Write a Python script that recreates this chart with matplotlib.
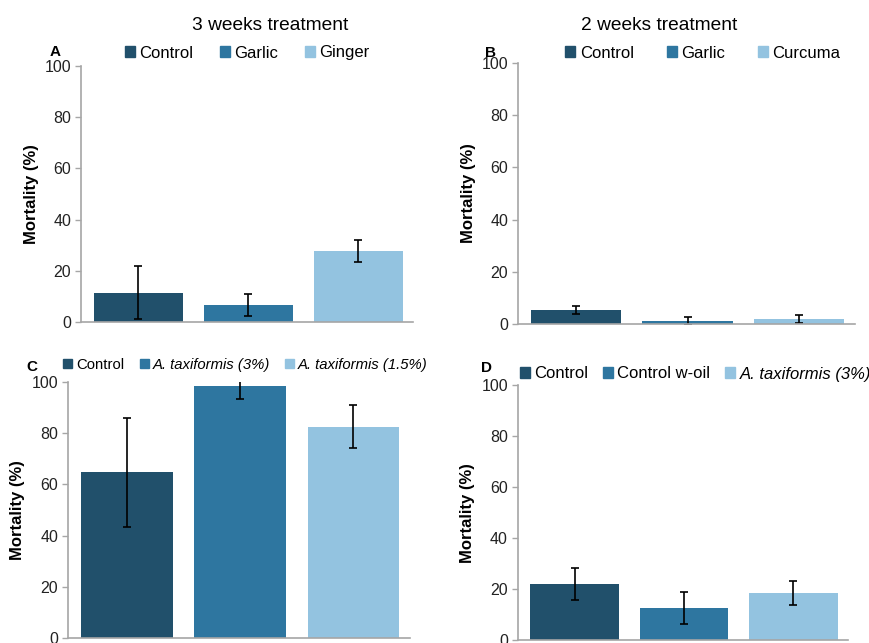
import matplotlib
matplotlib.use('Agg')
import matplotlib.pyplot as plt
from matplotlib.patches import Patch

plt.rcParams['font.family'] = ['Liberation Sans', 'DejaVu Sans']

# panel A: 3 weeks treatment
a_labels = ['Control', 'Garlic', 'Ginger']
a_vals = [11.5, 6.7, 27.8]
a_err = [10.5, 4.3, 4.3]

# panel B: 2 weeks treatment
b_labels = ['Control', 'Garlic', 'Curcuma']
b_vals = [5.5, 1.3, 2.1]
b_err = [1.5, 1.5, 1.5]

# panel C
c_labels = ['Control', 'A. taxiformis (3%)', 'A. taxiformis (1.5%)']
c_vals = [64.7, 98.2, 82.5]
c_err = [21.2, 5.0, 8.5]

# panel D
d_labels = ['Control', 'Control w-oil', 'A. taxiformis (3%)']
d_vals = [22.0, 12.5, 18.4]
d_err = [6.2, 6.3, 4.6]

colors = ['#21506B', '#2E76A0', '#93C3E0']
W, H = 870, 643


def pos(l, r, t, b):
    return [l / W, 1 - b / H, (r - l) / W, (b - t) / H]


def panel(rect, vals, err, labels, italic, letter, letter_xy, ylab_xy,
          leg_xy, legsize, colsp):
    ax = fig.add_axes(pos(*rect))
    x = range(len(vals))
    ax.bar(x, vals, width=0.81, color=colors)
    ax.errorbar(x, vals, yerr=err, fmt='none', ecolor='black',
                elinewidth=1.2, capsize=2.6, capthick=1.2)
    ax.set_ylim(0, 100)
    ax.set_xlim(-0.52, 2.5)
    ax.set_yticks([0, 20, 40, 60, 80, 100])
    ax.set_xticks([])
    for s in ['top', 'right']:
        ax.spines[s].set_visible(False)
    for s in ['left', 'bottom']:
        ax.spines[s].set_color('#a6a6a6')
        ax.spines[s].set_linewidth(1.2)
    ax.tick_params(axis='y', colors='#a6a6a6', labelcolor='#222222',
                   labelsize=11.5, length=4, width=1.0, direction='out', pad=3)
    fig.text(ylab_xy[0] / W, 1 - ylab_xy[1] / H, 'Mortality (%)', fontsize=12,
             fontweight='bold', rotation=90, ha='center', va='center')
    handles = [Patch(color=c) for c in colors]
    leg = fig.legend(handles, labels, ncol=3, frameon=False, loc='center',
                     bbox_to_anchor=(leg_xy[0] / W, 1 - leg_xy[1] / H),
                     fontsize=legsize, handlelength=0.6, handleheight=0.6,
                     handletextpad=0.25, columnspacing=colsp)
    for t, it in zip(leg.get_texts(), italic):
        if it:
            t.set_style('italic')
    fig.text(letter_xy[0] / W, 1 - letter_xy[1] / H, letter, fontsize=11,
             fontweight='bold', ha='center', va='center')
    return ax


fig = plt.figure(figsize=(8.7, 6.43), dpi=100)

panel((81, 413, 66, 322), a_vals, a_err, a_labels, [0, 0, 0],
      'A', (55, 52), (32, 194), (247, 53), 12, 1.6)
panel((518, 855, 62.7, 324.3), b_vals, b_err, b_labels, [0, 0, 0],
      'B', (491, 53), (469, 193), (703, 53), 12, 2.0)
panel((68, 410, 381.7, 638.3), c_vals, c_err, c_labels, [0, 1, 1],
      'C', (32, 367), (18, 510), (245.5, 365), 10.7, 1.05)
panel((517.7, 848, 385, 640), d_vals, d_err, d_labels, [0, 0, 1],
      'D', (487, 368), (468, 513), (695.5, 374), 12, 0.9)

fig.text(270 / W, 1 - 26 / H, '3 weeks treatment', fontsize=13.8,
         ha='center', va='center')
fig.text(659 / W, 1 - 26 / H, '2 weeks treatment', fontsize=13.8,
         ha='center', va='center')

plt.savefig('out.png', dpi=100)
plt.close()
